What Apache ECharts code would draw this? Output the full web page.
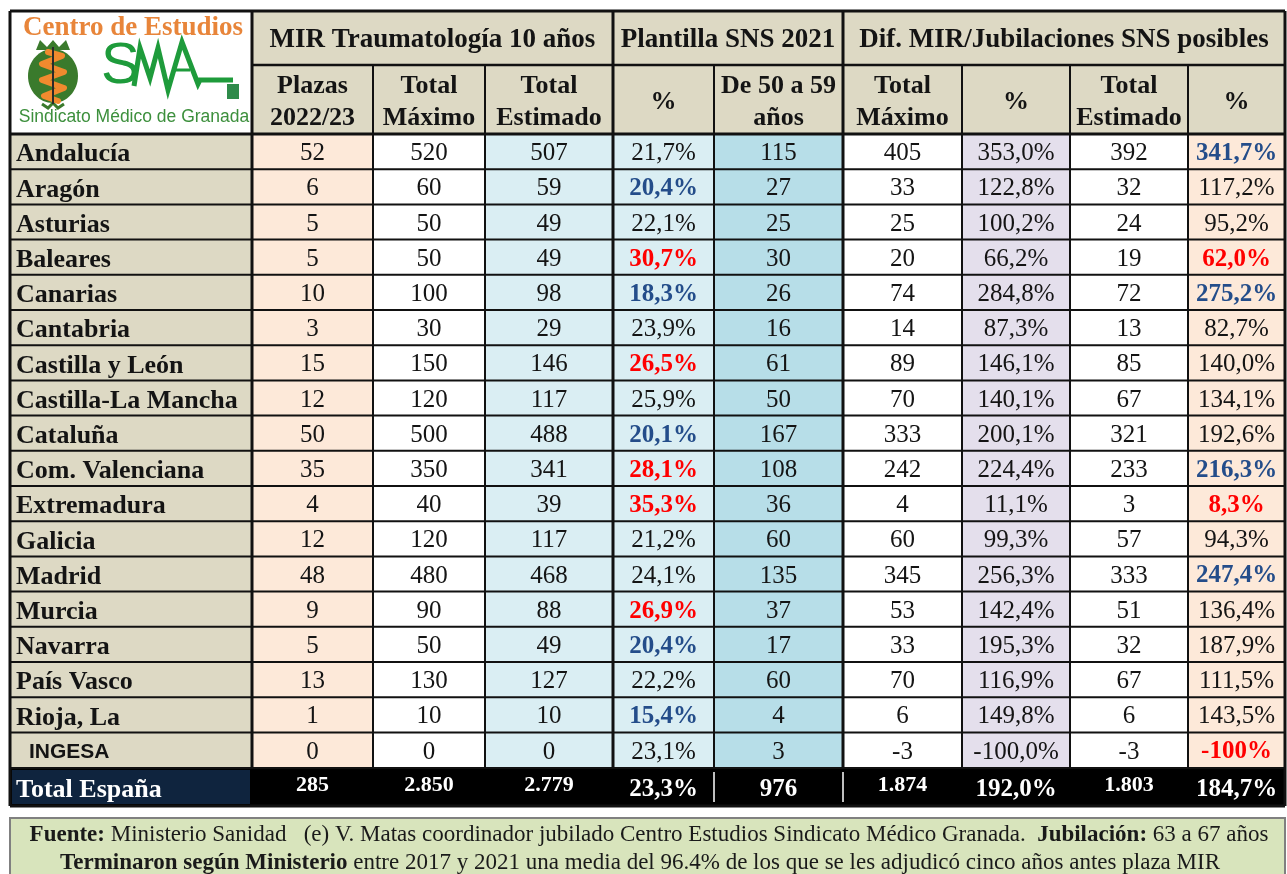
<!DOCTYPE html>
<html><head><meta charset="utf-8">
<script src="https://cdn.jsdelivr.net/npm/echarts@6/dist/echarts.min.js"></script>
<style>html,body{margin:0;padding:0;background:#fff}#c{width:1287px;height:874px}</style>
</head><body><div id="c"></div>
<script>
// ---------------- DATA ----------------
const regions = ['Andalucía','Aragón','Asturias','Baleares','Canarias','Cantabria','Castilla y León','Castilla-La Mancha','Cataluña','Com. Valenciana','Extremadura','Galicia','Madrid','Murcia','Navarra','País Vasco','Rioja, La','INGESA'];
const plazas         = [52,6,5,5,10,3,15,12,50,35,4,12,48,9,5,13,1,0];
const totalMaximo    = [520,60,50,50,100,30,150,120,500,350,40,120,480,90,50,130,10,0];
const totalEstimado  = [507,59,49,49,98,29,146,117,488,341,39,117,468,88,49,127,10,0];
const pctPlantilla   = [21.7,20.4,22.1,30.7,18.3,23.9,26.5,25.9,20.1,28.1,35.3,21.2,24.1,26.9,20.4,22.2,15.4,23.1];
const de50a59        = [115,27,25,30,26,16,61,50,167,108,36,60,135,37,17,60,4,3];
const difMaximo      = [405,33,25,20,74,14,89,70,333,242,4,60,345,53,33,70,6,-3];
const pctDifMaximo   = [353.0,122.8,100.2,66.2,284.8,87.3,146.1,140.1,200.1,224.4,11.1,99.3,256.3,142.4,195.3,116.9,149.8,-100.0];
const difEstimado    = [392,32,24,19,72,13,85,67,321,233,3,57,333,51,32,67,6,-3];
const pctDifEstimado = [341.7,117.2,95.2,62.0,275.2,82.7,140.0,134.1,192.6,216.3,8.3,94.3,247.4,136.4,187.9,111.5,143.5,-100];
const totalLabel = 'Total España';
const totalRow = [285,2850,2779,23.3,976,1874,192.0,1803,184.7];
const groupHeaders = ['MIR Traumatología 10 años','Plantilla SNS 2021','Dif. MIR/Jubilaciones SNS posibles'];
const columnHeaders = ['Plazas\n2022/23','Total\nMáximo','Total\nEstimado','%','De 50 a 59\naños','Total\nMáximo','%','Total\nEstimado','%'];
const logoTitle = 'Centro de Estudios';
const logoSubtitle = 'Sindicato Médico de Granada';
const footerLine1 = '{b|Fuente:} Ministerio Sanidad   (e) V. Matas coordinador jubilado Centro Estudios Sindicato Médico Granada.  {b|Jubilación:} 63 a 67 años';
const footerLine2 = '{b|Terminaron según Ministerio} entre 2017 y 2021 una media del 96.4% de los que se les adjudicó cinco años antes plaza MIR';

// ---------------- LAYOUT / STYLE ----------------
const columns = [plazas,totalMaximo,totalEstimado,pctPlantilla,de50a59,difMaximo,pctDifMaximo,difEstimado,pctDifEstimado];
const isPct = [false,false,false,true,false,false,true,false,true];
const colEdges = [10,252,373,485,613,714,843,962,1070,1188,1285];
const groupSpans = [[1,4],[4,6],[6,10]];
const Y_TOP = 11, Y_H1 = 65, Y_H2 = 134, ROW_H = 35.2, Y_TOT0 = 768, Y_TOT1 = 806;
const colFill = ['#DDD9C4','#FDE9D9','#FFFFFF','#DAEEF3','#DAEEF3','#B7DEE8','#FFFFFF','#E4DFEC','#FFFFFF','#FDE9D9'];
const HEAD_BG = '#DDD9C4';
const RED = '#FF0000', BLUE = '#244D8A';
const SERIF = '"Liberation Serif","Times New Roman",serif';

function fmtInt(v){
  const s = String(Math.abs(v)).replace(/\B(?=(\d{3})+(?!\d))/g,'.');
  return (v<0?'-':'')+s;
}
function fmtPct(v, col){
  if (col === 9 && v <= -100) return Math.round(v) + '%';
  return v.toFixed(1).replace('.',',') + '%';
}
function pctColor(col, v){
  if (col === 4) { if (v > 26) return RED; if (v < 21) return BLUE; }
  if (col === 9) { if (v < 80) return RED; if (v > 200) return BLUE; }
  return null;
}

// ---------------- CELLS ----------------
const cells = [];
cells.push({x0:colEdges[0],x1:colEdges[1],y0:Y_TOP,y1:Y_H2,fill:'#FFFFFF'});
groupHeaders.forEach((t,i)=>{
  const [a,b] = groupSpans[i];
  cells.push({x0:colEdges[a],x1:colEdges[b],y0:Y_TOP,y1:Y_H1,fill:HEAD_BG,text:t,font:'bold 27px '+SERIF,color:'#141414',dy:2});
});
columnHeaders.forEach((t,i)=>{
  cells.push({x0:colEdges[i+1],x1:colEdges[i+2],y0:Y_H1,y1:Y_H2,fill:HEAD_BG,text:t,font:'bold 26px '+SERIF,color:'#141414',lh:32,dy:3});
});
regions.forEach((name,r)=>{
  const y0 = Y_H2 + r*ROW_H, y1 = y0 + ROW_H;
  const isIng = name === 'INGESA';
  cells.push({x0:colEdges[0],x1:colEdges[1],y0,y1,fill:colFill[0],text:name,align:'left',pad:isIng?19:6,
    font:isIng?'bold 21px "Liberation Sans",Arial,sans-serif':'bold 26px '+SERIF,color:'#141414',dy:isIng?2:3});
  columns.forEach((arr,k)=>{
    const c = k+1, v = arr[r];
    const pc = isPct[k] ? pctColor(c,v) : null;
    cells.push({x0:colEdges[c],x1:colEdges[c+1],y0,y1,fill:colFill[c],
      text:isPct[k]?fmtPct(v,c):fmtInt(v),
      font:(pc?'bold ':'')+'25px '+SERIF,color:pc||'#141414',dy:2});
  });
});
cells.push({x0:colEdges[0],x1:colEdges[10],y0:Y_TOT0,y1:Y_TOT1,fill:'#000000'});
cells.push({x0:colEdges[0]+2,x1:colEdges[1]-2,y0:Y_TOT0+2,y1:Y_TOT1-2,fill:'#0F243E',text:totalLabel,align:'left',pad:4,font:'bold 26px '+SERIF,color:'#FFFFFF',dy:3});
totalRow.forEach((v,k)=>{
  const c = k+1;
  const big = (k===3||k===4||k===6||k===8);
  cells.push({x0:colEdges[c],x1:colEdges[c+1],y0:Y_TOT0,y1:Y_TOT1,fill:'rgba(0,0,0,0)',
    text:isPct[k]?fmtPct(v,c):fmtInt(v),font:'bold '+(big?'25px ':'22px ')+SERIF,color:'#FFFFFF',dy:(big?3:-2)});
});

// ---------------- GRID LINES ----------------
const lines = [];
const L = colEdges[0], R = colEdges[10];
lines.push({x0:L,y0:Y_TOP,x1:R,y1:Y_TOP,w:3});
lines.push({x0:colEdges[1],y0:Y_H1,x1:R,y1:Y_H1,w:2.5});
lines.push({x0:L,y0:Y_H2,x1:R,y1:Y_H2,w:3});
for (let r=1;r<regions.length;r++){ const y=Y_H2+r*ROW_H; lines.push({x0:L,y0:y,x1:R,y1:y,w:2}); }
lines.push({x0:L,y0:Y_TOT0,x1:R,y1:Y_TOT0,w:2});
lines.push({x0:L,y0:Y_TOT1,x1:R,y1:Y_TOT1,w:3});
[0,10].forEach(i=>lines.push({x0:colEdges[i],y0:Y_TOP,x1:colEdges[i],y1:Y_TOT1,w:3}));
[1,4,6].forEach(i=>lines.push({x0:colEdges[i],y0:Y_TOP,x1:colEdges[i],y1:Y_TOT0,w:3}));
[2,3,5,7,8,9].forEach(i=>lines.push({x0:colEdges[i],y0:Y_H1,x1:colEdges[i],y1:Y_TOT0,w:2}));
[5,6].forEach(i=>lines.push({x0:colEdges[i],y0:Y_TOT0+4,x1:colEdges[i],y1:Y_TOT1-4,w:1.5,color:'#FFFFFF'}));

// ---------------- CHART ----------------
const chart = echarts.init(document.getElementById('c'), null, {renderer:'canvas'});
const G = '#1E9B3B';
chart.setOption({
  animation:false,
  backgroundColor:'#FFFFFF',
  grid:{left:0,right:0,top:0,bottom:0},
  xAxis:{type:'value',min:0,max:1287,show:false},
  yAxis:{type:'value',min:0,max:874,inverse:true,show:false},
  series:[
    {
      type:'custom', coordinateSystem:'cartesian2d', silent:true, clip:false, z:1,
      data:cells.map(c=>[c.x0,c.y0]),
      renderItem:function(params,api){
        const cell = cells[params.dataIndex];
        const p0 = api.coord([cell.x0,cell.y0]), p1 = api.coord([cell.x1,cell.y1]);
        const x=p0[0], y=p0[1], w=p1[0]-p0[0], h=p1[1]-p0[1];
        const ch = [{type:'rect',shape:{x,y,width:w,height:h},style:{fill:cell.fill}}];
        if (cell.text){
          const tx = cell.align==='left' ? x+cell.pad : x+w/2;
          ch.push({type:'text',style:{text:cell.text,x:tx,y:y+h/2+(cell.dy||0),align:cell.align||'center',verticalAlign:'middle',font:cell.font,fill:cell.color,lineHeight:cell.lh||undefined}});
        }
        return {type:'group',children:ch};
      }
    },
    {
      type:'custom', coordinateSystem:'cartesian2d', silent:true, clip:false, z:2,
      data:lines.map(l=>[l.x0,l.y0]),
      renderItem:function(params,api){
        const l = lines[params.dataIndex];
        const p0 = api.coord([l.x0,l.y0]), p1 = api.coord([l.x1,l.y1]);
        return {type:'line',shape:{x1:p0[0],y1:p0[1],x2:p1[0],y2:p1[1]},style:{stroke:l.color||'#111',lineWidth:l.w}};
      }
    }
  ],
  graphic:[
    {type:'rect',z:0,shape:{x:10,y:818,width:1275,height:70},style:{fill:'#D8E4BC',stroke:'#808080',lineWidth:2}},
    {type:'text',z:5,style:{text:footerLine1,x:649,y:835,align:'center',verticalAlign:'middle',font:'23px '+SERIF,fill:'#1a1a1a',
      rich:{b:{fontWeight:'bold',fontSize:23,fontFamily:SERIF,fill:'#1a1a1a'}}}},
    {type:'text',z:5,style:{text:footerLine2,x:640,y:863,align:'center',verticalAlign:'middle',font:'23px '+SERIF,fill:'#1a1a1a',
      rich:{b:{fontWeight:'bold',fontSize:23,fontFamily:SERIF,fill:'#1a1a1a'}}}},
    // logo
    {type:'text',z:10,style:{text:logoTitle,x:133,y:28,align:'center',verticalAlign:'middle',font:'bold 27px '+SERIF,fill:'#E8853A'}},
    {type:'polygon',z:10,shape:{points:[[36,50],[40,40],[47,47],[53,40],[59,47],[66,40],[70,50]]},style:{fill:'#3A7A2C'}},
    {type:'ellipse',z:10,shape:{cx:53,cy:76,rx:25,ry:27},style:{fill:'#3A7A2C'}},
    {type:'line',z:12,shape:{x1:53,y1:47,x2:53,y2:104},style:{stroke:'#2a2a2a',lineWidth:2}},
    {type:'polyline',z:11,shape:{points:[[48,52],[62,56],[42,64],[64,72],[42,80],[64,88],[44,96],[58,101]]},style:{stroke:'#F08A2E',lineWidth:6,fill:null,lineJoin:'round',lineCap:'round'}},
    {type:'polyline',z:10,shape:{points:[[42,104],[48,108],[53,103],[58,108],[64,104]]},style:{stroke:'#3A7A2C',lineWidth:3,fill:null}},
    {type:'text',z:10,style:{text:'S',x:101,y:67,align:'left',verticalAlign:'middle',font:'58px "Liberation Sans",sans-serif',fill:G}},
    {type:'polyline',z:10,shape:{points:[[134,86],[140,48],[150,78],[158,48],[168,90],[182,42],[198,84],[200,80],[233,80]]},style:{stroke:G,lineWidth:5,fill:null,lineJoin:'miter'}},
    {type:'line',z:10,shape:{x1:174,y1:70,x2:190,y2:70},style:{stroke:G,lineWidth:3}},
    {type:'rect',z:10,shape:{x:227,y:84,width:12,height:15},style:{fill:'#2E8B4A'}},
    {type:'text',z:10,style:{text:logoSubtitle,x:134,y:117,align:'center',verticalAlign:'middle',font:'17.5px "Liberation Sans",Arial,sans-serif',fill:'#3C8F3C'}}
  ]
});
</script></body></html>
